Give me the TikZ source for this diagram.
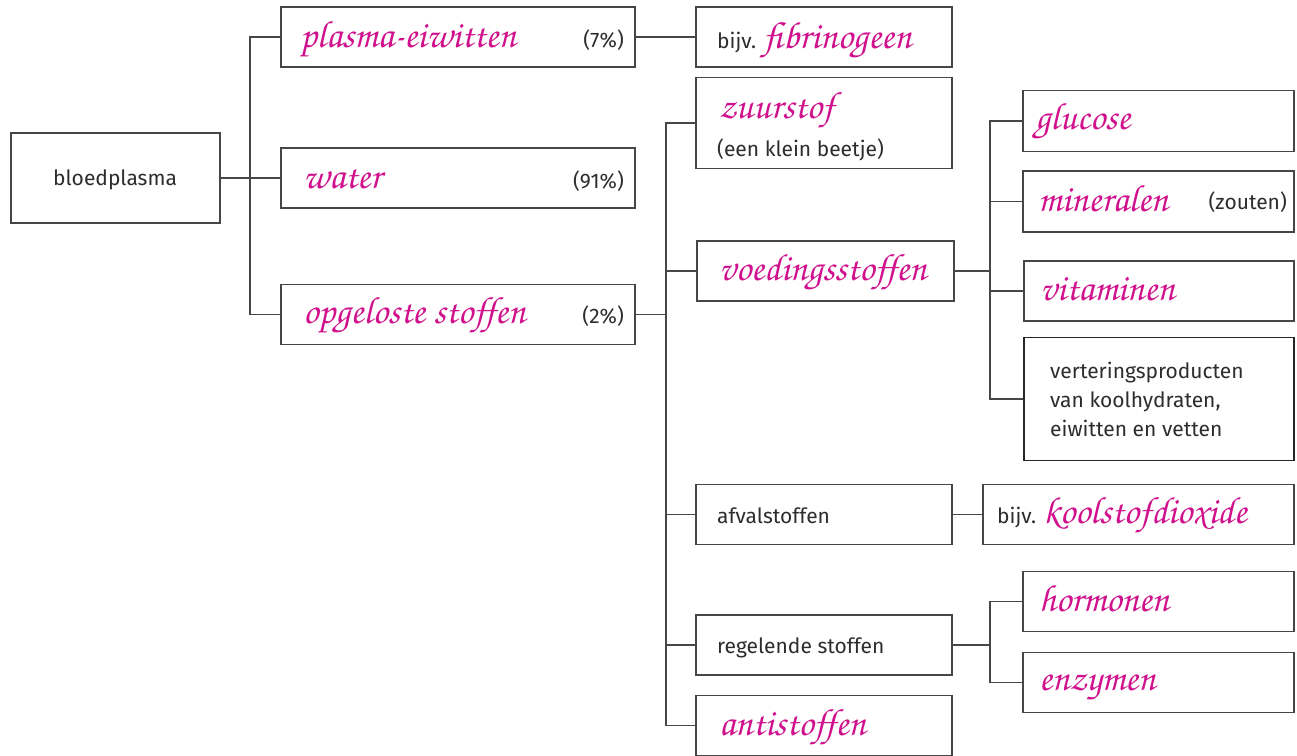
\documentclass[tikz,border=0pt]{standalone}
\usepackage[T1]{fontenc}
\usepackage{fontspec}
\setmainfont{Fira Sans}
\definecolor{hwpink}{RGB}{208,16,140}
\definecolor{txtgray}{RGB}{45,45,45}
\definecolor{linegray}{RGB}{70,70,70}
\newcommand\hw[1]{{\fontencoding{T1}\fontfamily{pzc}\fontseries{mb}\fontshape{it}\fontsize{38}{38}\selectfont\color{hwpink}#1}}
\tikzset{
  box/.style={draw=linegray, line width=1.3pt, fill=white, inner sep=0pt, minimum width=#1},
  lbl/.style={anchor=base west, inner sep=0pt, text=txtgray, font=\fontsize{21}{21}\selectfont},
  lblr/.style={anchor=base east, inner sep=0pt, text=txtgray, font=\fontsize{21}{21}\selectfont},
  conn/.style={draw=linegray, line width=1.3pt}
}
\begin{document}
\begin{tikzpicture}[x=1pt,y=-1pt]
\useasboundingbox (0,0) rectangle (1297,755);
% boxes
\node[box=209pt, minimum height=90pt] (bp) at (115.5,178) {};
\node[box=354pt, minimum height=60pt] (pe) at (458,37) {};
\node[box=354pt, minimum height=60pt] (wa) at (458,178) {};
\node[box=354pt, minimum height=60pt] (op) at (458,314.5) {};
\node[box=256pt, minimum height=60pt] (fi) at (824,37) {};
\node[box=256pt, minimum height=91pt] (zu) at (824,123) {};
\node[box=257pt, minimum height=60pt] (vo) at (825.5,271) {};
\node[box=256pt, minimum height=60pt] (af) at (824,514.5) {};
\node[box=256pt, minimum height=60pt] (re) at (824,645) {};
\node[box=256pt, minimum height=60pt] (an) at (824,725.5) {};
\node[box=271pt, minimum height=61pt] (gl) at (1158.5,121) {};
\node[box=271pt, minimum height=61pt] (mi) at (1158.5,201.5) {};
\node[box=270pt, minimum height=60pt] (vi) at (1159,291) {};
\node[box=270pt, minimum height=123pt, line width=1.8pt, draw=black!85] (ve) at (1159,399) {};
\node[box=311pt, minimum height=60pt] (ko) at (1138.5,514.5) {};
\node[box=271pt, minimum height=60pt] (ho) at (1158.5,601.5) {};
\node[box=271pt, minimum height=60pt] (en) at (1158.5,682.5) {};
% junction coordinates
\coordinate (j1) at (250,0);
\coordinate (j2) at (666,0);
\coordinate (j3) at (990,0);
% connectors
\draw[conn] (bp.east) -- (wa.west);
\draw[conn] (pe.west) -- (pe.west -| j1) -- (op.west -| j1) -- (op.west);
\draw[conn] (pe.east) -- (fi.west);
\draw[conn] (op.east) -- (op.east -| j2);
\draw[conn] (zu.west) -- (zu.west -| j2) -- (an.west -| j2) -- (an.west);
\foreach \n in {vo,af,re} \draw[conn] (\n.west -| j2) -- (\n.west);
\draw[conn] (vo.east) -- (vo.east -| j3);
\draw[conn] (gl.west) -- (gl.west -| j3) -- (ve.west -| j3) -- (ve.west);
\foreach \n in {mi,vi} \draw[conn] (\n.west -| j3) -- (\n.west);
\draw[conn] (af.east) -- (ko.west);
\draw[conn] (re.east) -- (re.east -| j3);
\draw[conn] (ho.west) -- (ho.west -| j3) -- (en.west -| j3) -- (en.west);
% texts
\node[lbl] (tbp) at (53,185) {bloedplasma};
\node[lbl] (tpe) at (300,47) {\hw{plasma-eiwitten}};
\node[lblr] (tpe2) at (624,47) {(7\%)};
\node[lbl] (twa) at (303,188) {\hw{water}};
\node[lblr] (twa2) at (624,188) {(91\%)};
\node[lbl] (top) at (303,323) {\hw{opgeloste stoffen}};
\node[lblr] (top2) at (624,323) {(2\%)};
\node[lbl] (tfi) at (717,48) {bijv. \hw{fibrinogeen}};
\node[lbl] (tzu) at (719,118) {\hw{zuurstof}};
\node[lbl] (tzu2) at (717,156) {(een klein beetje)};
\node[lbl] (tvo) at (719,280) {\hw{voedingsstoffen}};
\node[lbl] (taf) at (717,523) {afvalstoffen};
\node[lbl] (tre) at (717,653) {regelende stoffen};
\node[lbl] (tan) at (719,735) {\hw{antistoffen}};
\node[lbl] (tgl) at (1035,129) {\hw{glucose}};
\node[lbl] (tmi) at (1038,211) {\hw{mineralen}};
\node[lblr] (tmi2) at (1287,209) {(zouten)};
\node[lbl] (tvi) at (1040,300) {\hw{vitaminen}};
\node[lbl] (tve1) at (1050,378) {verteringsproducten};
\node[lbl] (tve2) at (1050,407) {van koolhydraten,};
\node[lbl] (tve3) at (1050,436) {eiwitten en vetten};
\node[lbl] (tko) at (997,523) {bijv. \hw{koolstofdioxide}};
\node[lbl] (tho) at (1039,611) {\hw{hormonen}};
\node[lbl] (ten) at (1039,690) {\hw{enzymen}};
\end{tikzpicture}
\end{document}
